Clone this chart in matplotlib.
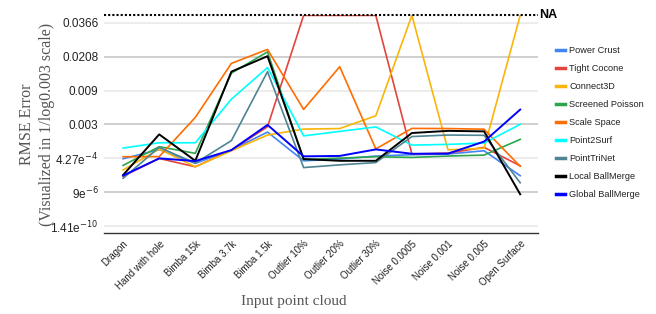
import numpy as np
import matplotlib
matplotlib.use("Agg")
import matplotlib.pyplot as plt

# values in the chart's own units (1/log0.003 of RMSE); None = NA
clouds = ["Dragon", "Hand with hole", "Bimba 15k", "Bimba 3.7k", "Bimba 1.5k",
          "Outlier 10%", "Outlier 20%", "Outlier 30%", "Noise 0.0005",
          "Noise 0.001", "Noise 0.005", "Open Surface"]

power_crust = [0.747, 0.815, 0.713, 0.811, 0.944, 0.732, 0.745, 0.767, 0.777, 0.782, 0.806, 0.622]
tight_cocone = [0.619, 0.749, 0.688, 0.811, 0.983, None, None, None, 0.782, 0.789, 0.831, 0.695]
connect3d = [0.664, 0.819, 0.688, 0.806, 0.922, 0.966, 0.970, 1.064, None, 0.813, 0.824, None]
screened_poisson = [0.698, 0.836, 0.787, 1.379, 1.536, 0.741, 0.752, 0.762, 0.757, 0.767, 0.774, 0.890]
scale_space = [0.762, 0.763, 1.052, 1.451, 1.554, 1.111, 1.426, 0.820, 0.971, 0.970, 0.965, 0.691]
point2surf = [0.826, 0.865, 0.865, 1.187, 1.420, 0.916, 0.949, 0.982, 0.848, 0.853, 0.863, 1.001]
pointtrinet = [0.603, 0.831, 0.715, 0.881, 1.390, 0.682, 0.702, 0.719, 0.911, 0.922, 0.920, 0.570]
local_ballmerge = [0.627, 0.927, 0.732, 1.390, 1.504, 0.745, 0.732, 0.732, 0.937, 0.953, 0.949, 0.485]
global_ballmerge = [0.623, 0.750, 0.730, 0.811, 0.997, 0.765, 0.768, 0.816, 0.784, 0.785, 0.874, 1.110]

na_level = 1.805

tick_levels = [0.25, 0.5, 0.75, 1.0, 1.25, 1.5, 1.75]
tick_labels = ["1.41e$^{-10}$", "9e$^{-6}$", "4.27e$^{-4}$", "0.003",
               "0.009", "0.0208", "0.0366"]

series = [
    ("Power Crust", power_crust, "#4285F4", 1.2),
    ("Tight Cocone", tight_cocone, "#E2453C", 1.2),
    ("Connect3D", connect3d, "#F9B50A", 1.2),
    ("Screened Poisson", screened_poisson, "#2DA54F", 1.2),
    ("Scale Space", scale_space, "#FF6D01", 1.2),
    ("Point2Surf", point2surf, "#00FFFF", 1.2),
    ("PointTriNet", pointtrinet, "#4E8493", 1.2),
    ("Local BallMerge", local_ballmerge, "#000000", 1.4),
    ("Global BallMerge", global_ballmerge, "#0000FF", 1.4),
]

plt.rcParams['font.family'] = ['Liberation Sans', 'DejaVu Sans']

fig = plt.figure(figsize=(6.56, 3.14), dpi=100)
ax = fig.add_axes([0.1585, 0.257, 0.662, 0.694])

x = np.arange(len(clouds))

# gridlines, alternating darker / lighter like the original
for lv in tick_levels:
    major = abs(lv * 2 - round(lv * 2)) < 1e-6
    ax.axhline(lv, color="#cccccc" if major else "#ebebeb", lw=1.3, zorder=0)

for name, vals, color, lw in series:
    y = [na_level if v is None else v for v in vals]
    ax.plot(x, y, color=color, lw=lw, label=name, zorder=2)

# NA line
ax.axhline(na_level, color="black", lw=1.5, ls=(0, (1, 1)), zorder=3, clip_on=False)
ax.text(1.003, na_level, "NA", transform=ax.get_yaxis_transform(), ha="left",
        va="center", fontsize=9, fontweight="bold")

ax.set_xlim(-0.53, 11.5)
ax.set_ylim(0.197, na_level)
ax.set_yticks(tick_levels)
ax.set_yticklabels(tick_labels, fontsize=8.5, color="#222222")
ax.set_xticks(x)
ax.set_xticklabels(clouds, rotation=45, ha="right", rotation_mode="anchor",
                   fontsize=7, color="#222222")
ax.tick_params(length=0, pad=4)
for s in ["top", "right", "left"]:
    ax.spines[s].set_visible(False)
ax.spines["bottom"].set_color("#333333")
ax.spines["bottom"].set_linewidth(1.0)

ax.set_xlabel("Input point cloud", family="Liberation Serif", fontsize=11,
              color="#555555")
ax.xaxis.set_label_coords(0.437, -0.283)
ax.set_ylabel("RMSE Error\n(Visualized in 1/log0.003 scale)", family="Liberation Serif",
              fontsize=11.5, color="#555555", linespacing=1.35)
ax.yaxis.set_label_coords(-0.113, 0.5)

leg = fig.legend(loc="center left", bbox_to_anchor=(0.835, 0.61), frameon=False,
                 fontsize=6.6, handlelength=1.0, handletextpad=0.45, labelspacing=0.98)
for line in leg.get_lines():
    line.set_linewidth(2.5)
for t in leg.get_texts():
    t.set_color("#222222")

fig.savefig("out.png", dpi=100)
